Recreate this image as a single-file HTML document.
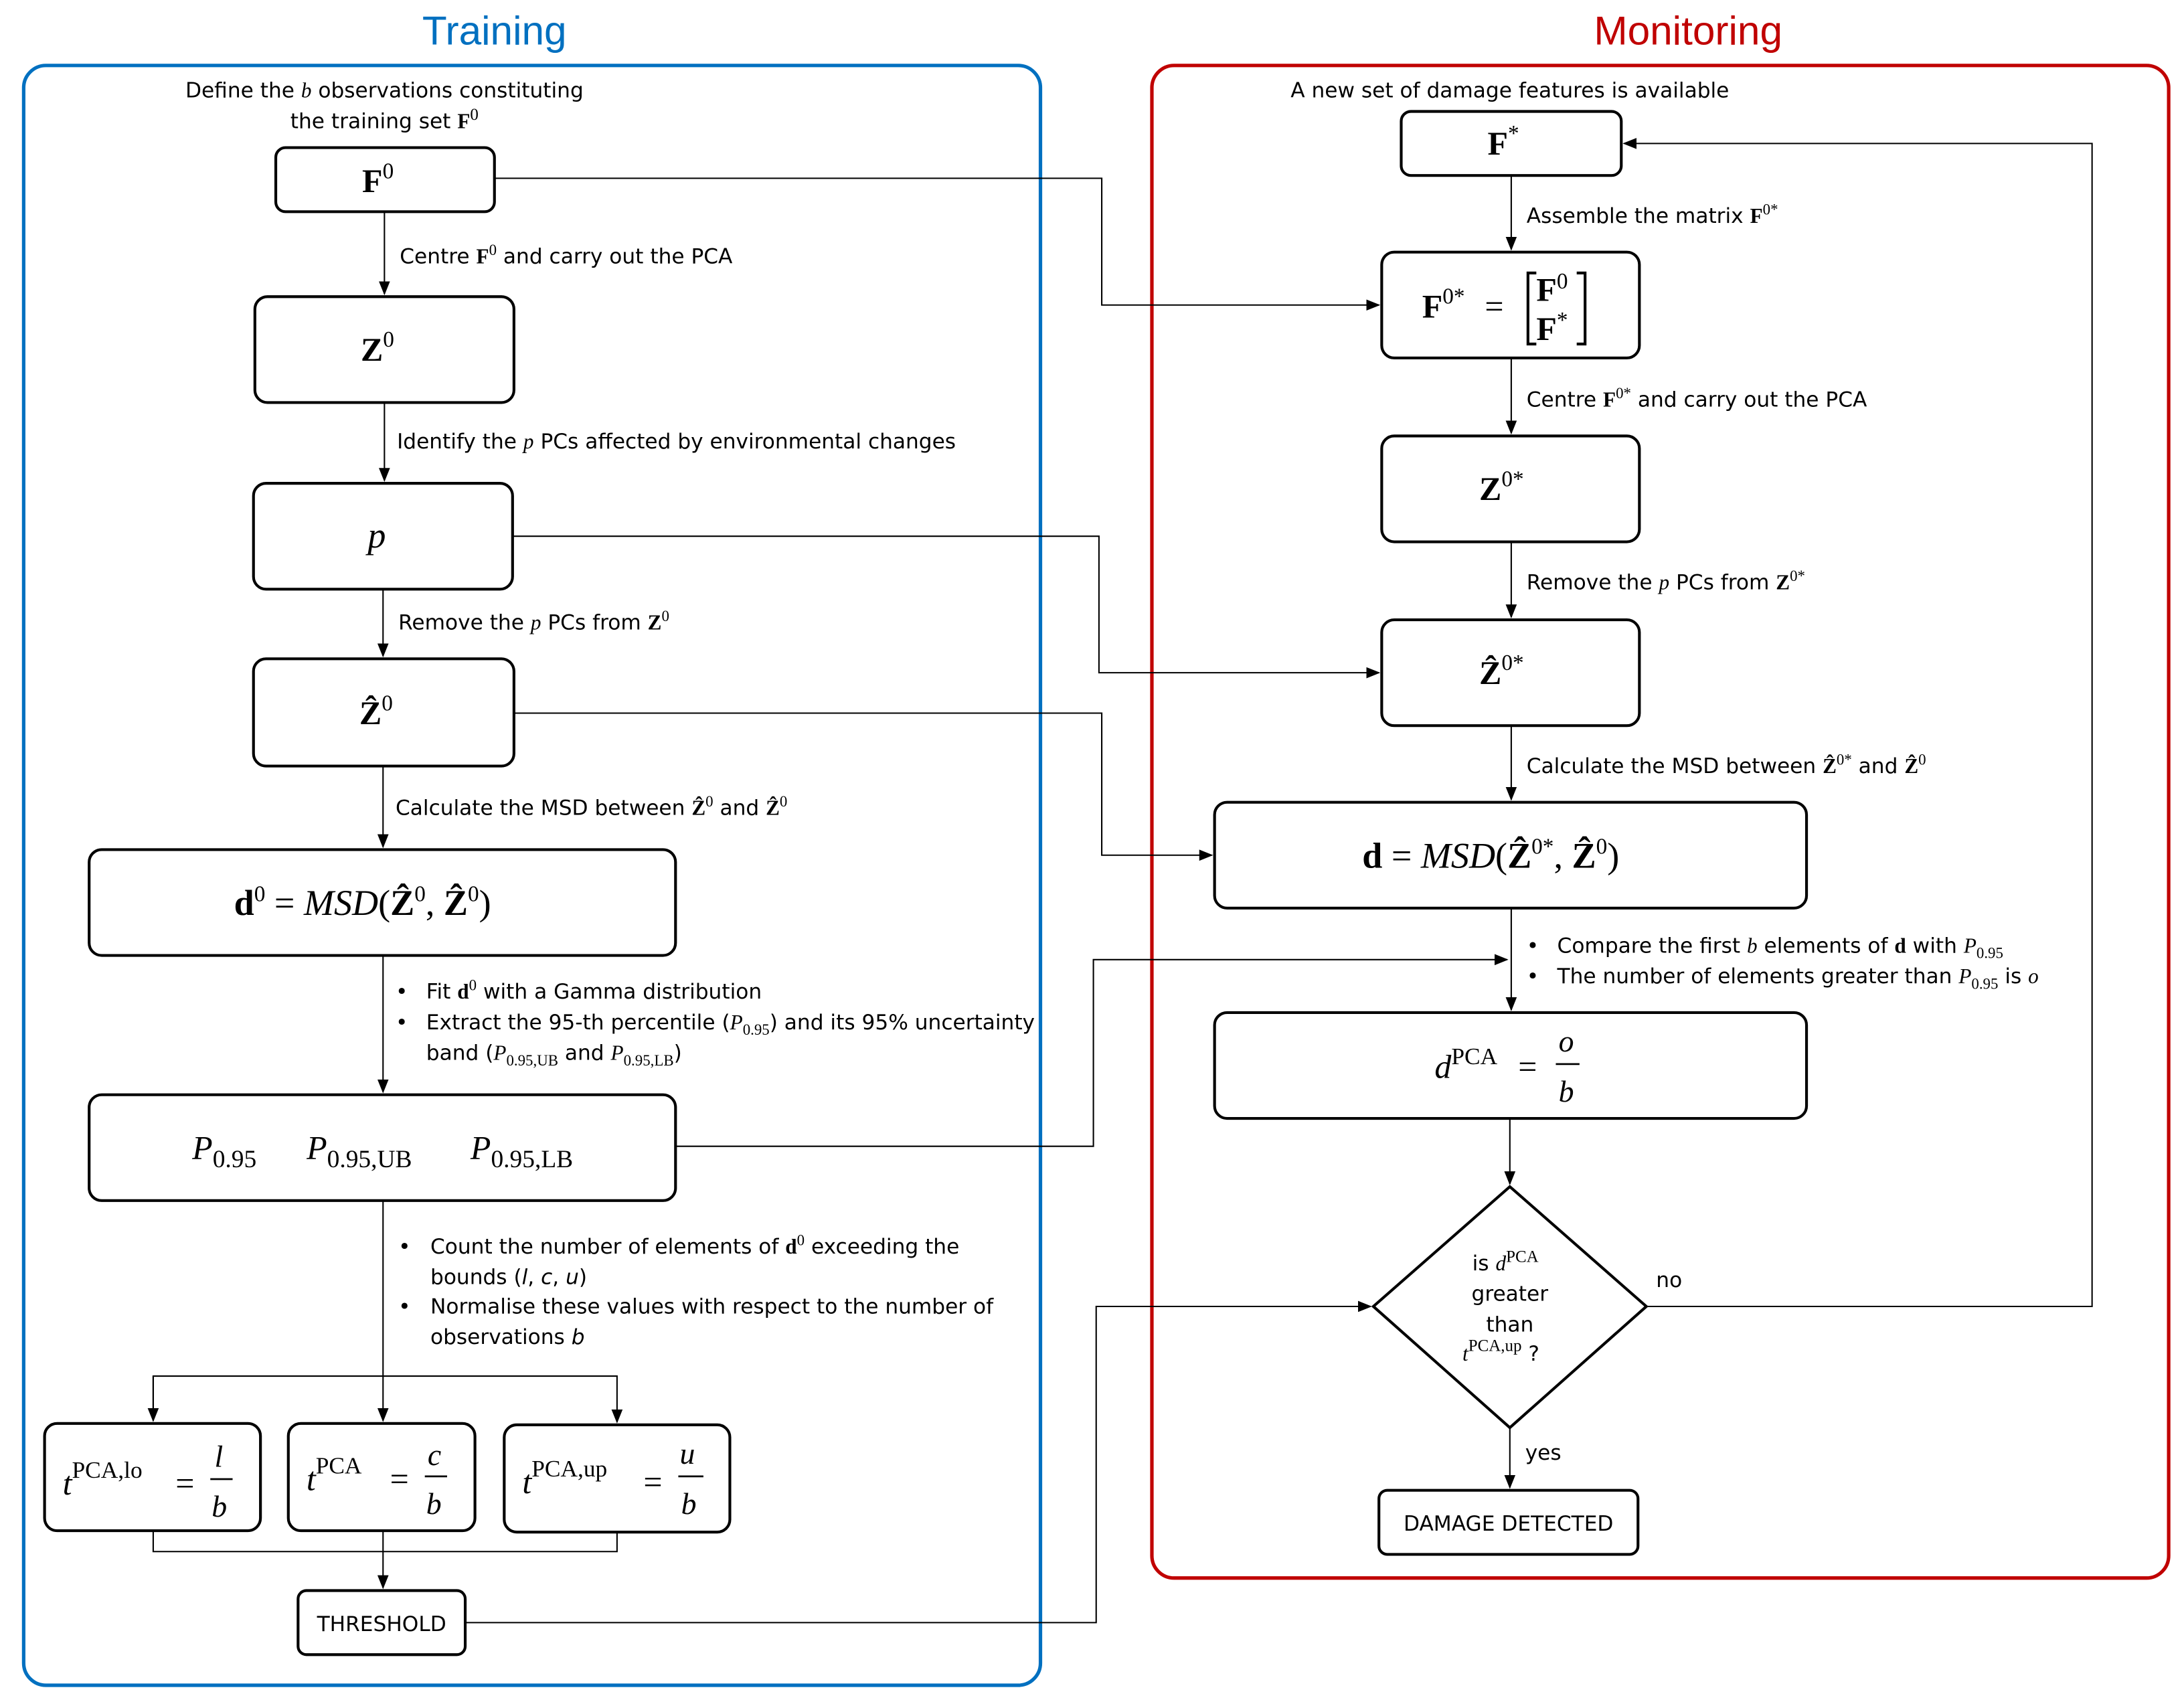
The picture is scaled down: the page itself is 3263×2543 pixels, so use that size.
<!DOCTYPE html>
<html><head><meta charset="utf-8">
<style>
html,body{margin:0;padding:0;background:#fff;}
svg{display:block;}
.s{font-family:"DejaVu Sans","Liberation Sans",sans-serif;font-size:15px;fill:#000;}
.m{font-family:"Liberation Serif",serif;fill:#000;}
.i{font-style:italic;}
.b{font-weight:bold;}
</style></head>
<body>
<svg width="3263" height="2543" viewBox="0 0 1568 1222" xmlns="http://www.w3.org/2000/svg">
<defs>
<marker id="a" markerWidth="10" markerHeight="10" refX="9" refY="5" orient="auto" markerUnits="userSpaceOnUse">
<path d="M0,1 L10,5 L0,9 z" fill="#000"/></marker>
</defs>
<rect width="1568" height="1222" fill="#fff"/>
<text x="355" y="32" text-anchor="middle" font-family="Liberation Sans,sans-serif" font-size="29" fill="#0070C0">Training</text>
<text x="1212" y="32" text-anchor="middle" font-family="Liberation Sans,sans-serif" font-size="29" fill="#C00000">Monitoring</text>
<rect x="17" y="47" width="730" height="1163" rx="16" fill="none" stroke="#0070C0" stroke-width="2.5"/>
<rect x="827" y="47" width="730" height="1086" rx="16" fill="none" stroke="#C00000" stroke-width="2.5"/>

<g fill="none" stroke="#000" stroke-width="2">
<rect x="198" y="106" width="157" height="46" rx="7"/>
<rect x="183" y="213" width="186" height="76" rx="9"/>
<rect x="182" y="347" width="186" height="76" rx="9"/>
<rect x="182" y="473" width="187" height="77" rx="9"/>
<rect x="64" y="610" width="421" height="76" rx="9"/>
<rect x="64" y="786" width="421" height="76" rx="9"/>
<rect x="32" y="1022" width="155" height="77" rx="9"/>
<rect x="207" y="1022" width="134" height="77" rx="9"/>
<rect x="362" y="1023" width="162" height="77" rx="9"/>
<rect x="214" y="1142" width="120" height="46" rx="6"/>
<rect x="1006" y="80" width="158" height="46" rx="7"/>
<rect x="992" y="181" width="185" height="76" rx="9"/>
<rect x="992" y="313" width="185" height="76" rx="9"/>
<rect x="992" y="445" width="185" height="76" rx="9"/>
<rect x="872" y="576" width="425" height="76" rx="9"/>
<rect x="872" y="727" width="425" height="76" rx="9"/>
<path d="M1084,852 L1182,938 L1084,1025 L986,938 Z"/>
<rect x="990" y="1070" width="186" height="46" rx="6"/>
</g>

<g fill="none" stroke="#000" stroke-width="1">
<path d="M276,152 V211" marker-end="url(#a)"/>
<path d="M276,289 V345" marker-end="url(#a)"/>
<path d="M275,423 V471" marker-end="url(#a)"/>
<path d="M275,550 V608" marker-end="url(#a)"/>
<path d="M275,686 V784" marker-end="url(#a)"/>
<path d="M275,862 V1020" marker-end="url(#a)"/>
<path d="M110,1020 V988 H443 V1021" marker-end="url(#a)"/>
<path d="M110,988 V1020" marker-end="url(#a)"/>
<path d="M110,1099 V1114 H443 V1100 M275,1099 V1140" marker-end="url(#a)"/>
<path d="M355,128 H791 V219 H990" marker-end="url(#a)"/>
<path d="M368,385 H789 V483 H990" marker-end="url(#a)"/>
<path d="M369,512 H791 V614 H870" marker-end="url(#a)"/>
<path d="M485,823 H785 V689 H1082" marker-end="url(#a)"/>
<path d="M334,1165 H787 V938 H984" marker-end="url(#a)"/>
<path d="M1182,938 H1502 V103 H1166" marker-end="url(#a)"/>
<path d="M1085,126 V179" marker-end="url(#a)"/>
<path d="M1085,257 V311" marker-end="url(#a)"/>
<path d="M1085,389 V443" marker-end="url(#a)"/>
<path d="M1085,521 V574" marker-end="url(#a)"/>
<path d="M1085,652 V725" marker-end="url(#a)"/>
<path d="M1084,803 V850" marker-end="url(#a)"/>
<path d="M1084,1025 V1068" marker-end="url(#a)"/>
</g>

<text class="s" x="276" y="70" text-anchor="middle" font-size="17">Define the <tspan class="m i">b</tspan> observations constituting</text>
<text class="s" x="276" y="92" text-anchor="middle" font-size="17">the training set <tspan class="m b">F</tspan><tspan class="m" font-size="12" dy="-6">0</tspan></text>
<text class="m b" x="260" y="138" font-size="24">F<tspan font-weight="normal" font-size="16" dy="-10">0</tspan></text>
<text class="s" x="287" y="189" font-size="16">Centre <tspan class="m b">F</tspan><tspan class="m" font-size="11" dy="-6">0</tspan><tspan dy="6"> and carry out the PCA</tspan></text>
<text class="m b" x="259" y="259" font-size="24">Z<tspan font-weight="normal" font-size="16" dy="-10">0</tspan></text>
<text class="s" x="285" y="322">Identify the <tspan class="m i">p</tspan> PCs affected by environmental changes</text>
<text class="m i" x="264" y="393" font-size="26">p</text>
<text class="s" x="286" y="452">Remove the <tspan class="m i">p</tspan> PCs from <tspan class="m b">Z</tspan><tspan class="m" font-size="11" dy="-6">0</tspan></text>
<text class="m b" x="258" y="520" font-size="24">Ẑ<tspan font-weight="normal" font-size="16" dy="-10">0</tspan></text>
<text class="s" x="284" y="585">Calculate the MSD between <tspan class="m b">Ẑ</tspan><tspan class="m" font-size="11" dy="-6">0</tspan><tspan dy="6"> and </tspan><tspan class="m b">Ẑ</tspan><tspan class="m" font-size="11" dy="-6">0</tspan></text>
<text class="m" x="168" y="657" font-size="26"><tspan class="b">d</tspan><tspan font-size="16" dy="-10">0</tspan><tspan dy="10"> = </tspan><tspan class="i">MSD</tspan>(<tspan class="b">Ẑ</tspan><tspan font-size="16" dy="-10">0</tspan><tspan dy="10">, </tspan><tspan class="b">Ẑ</tspan><tspan font-size="16" dy="-10">0</tspan><tspan dy="10">)</tspan></text>
<text class="s" x="284" y="717">•</text>
<text class="s" x="306" y="717" font-size="16">Fit <tspan class="m b">d</tspan><tspan class="m" font-size="11" dy="-6">0</tspan><tspan dy="6"> with a Gamma distribution</tspan></text>
<text class="s" x="284" y="739">•</text>
<text class="s" x="306" y="739">Extract the 95-th percentile (<tspan class="m i">P</tspan><tspan class="m" font-size="11" dy="4">0.95</tspan><tspan dy="-4">) and its 95% uncertainty</tspan></text>
<text class="s" x="306" y="761">band (<tspan class="m i">P</tspan><tspan class="m" font-size="11" dy="4">0.95,UB</tspan><tspan dy="-4"> and </tspan><tspan class="m i">P</tspan><tspan class="m" font-size="11" dy="4">0.95,LB</tspan><tspan dy="-4">)</tspan></text>
<text class="m" x="138" y="832" font-size="24"><tspan class="i">P</tspan><tspan font-size="18" dy="6">0.95</tspan><tspan class="i" dx="36" dy="-6">P</tspan><tspan font-size="18" dy="6">0.95,UB</tspan><tspan class="i" dx="42" dy="-6">P</tspan><tspan font-size="18" dy="6">0.95,LB</tspan></text>
<text class="s" x="286" y="900">•</text>
<text class="s" x="309" y="900">Count the number of elements of <tspan class="m b">d</tspan><tspan class="m" font-size="11" dy="-6">0</tspan><tspan dy="6"> exceeding the</tspan></text>
<text class="s" x="309" y="922">bounds (<tspan class="i">l</tspan>, <tspan class="i">c</tspan>, <tspan class="i">u</tspan>)</text>
<text class="s" x="286" y="943">•</text>
<text class="s" x="309" y="943">Normalise these values with respect to the number of</text>
<text class="s" x="309" y="965">observations <tspan class="i">b</tspan></text>
<g class="m" font-size="24">
<text x="45" y="1073" class="i">t<tspan font-style="normal" font-size="17" dy="-12">PCA,lo</tspan></text>
<text x="126" y="1073">=</text>
<text x="154" y="1053" class="i" font-size="22">l</text><line x1="151" y1="1062" x2="167" y2="1062" stroke="#000" stroke-width="1.3"/><text x="152" y="1089" class="i" font-size="22">b</text>
<text x="220" y="1070" class="i">t<tspan font-style="normal" font-size="17" dy="-12">PCA</tspan></text>
<text x="280" y="1070">=</text>
<text x="307" y="1052" class="i" font-size="22">c</text><line x1="305" y1="1060" x2="321" y2="1060" stroke="#000" stroke-width="1.3"/><text x="306" y="1087" class="i" font-size="22">b</text>
<text x="375" y="1072" class="i">t<tspan font-style="normal" font-size="17" dy="-12">PCA,up</tspan></text>
<text x="462" y="1072">=</text>
<text x="488" y="1051" class="i" font-size="22">u</text><line x1="487" y1="1060" x2="505" y2="1060" stroke="#000" stroke-width="1.3"/><text x="489" y="1087" class="i" font-size="22">b</text>
</g>
<text class="s" x="274" y="1171" text-anchor="middle">THRESHOLD</text>

<text class="s" x="1084" y="70" text-anchor="middle">A new set of damage features is available</text>
<text class="m b" x="1068" y="111" font-size="24">F<tspan font-weight="normal" font-size="16" dy="-10">*</tspan></text>
<text class="s" x="1096" y="160">Assemble the matrix <tspan class="m b">F</tspan><tspan class="m" font-size="11" dy="-6">0*</tspan></text>
<g class="m" font-size="24">
<text x="1021" y="228" class="b">F<tspan font-weight="normal" font-size="16" dy="-10">0*</tspan></text>
<text x="1066" y="228">=</text>
<path d="M1103,196 H1097 V247 H1103 M1132,196 H1138 V247 H1132" fill="none" stroke="#000" stroke-width="2"/>
<text x="1103" y="216" class="b">F<tspan font-weight="normal" font-size="16" dy="-9">0</tspan></text>
<text x="1103" y="244" class="b">F<tspan font-weight="normal" font-size="16" dy="-9">*</tspan></text>
</g>
<text class="s" x="1096" y="292" font-size="17">Centre <tspan class="m b">F</tspan><tspan class="m" font-size="11" dy="-6">0*</tspan><tspan dy="6"> and carry out the PCA</tspan></text>
<text class="m b" x="1062" y="359" font-size="24">Z<tspan font-weight="normal" font-size="16" dy="-10">0*</tspan></text>
<text class="s" x="1096" y="423">Remove the <tspan class="m i">p</tspan> PCs from <tspan class="m b">Z</tspan><tspan class="m" font-size="11" dy="-6">0*</tspan></text>
<text class="m b" x="1062" y="491" font-size="24">Ẑ<tspan font-weight="normal" font-size="16" dy="-10">0*</tspan></text>
<text class="s" x="1096" y="555">Calculate the MSD between <tspan class="m b">Ẑ</tspan><tspan class="m" font-size="11" dy="-6">0*</tspan><tspan dy="6"> and </tspan><tspan class="m b">Ẑ</tspan><tspan class="m" font-size="11" dy="-6">0</tspan></text>
<text class="m" x="978" y="623" font-size="26"><tspan class="b">d</tspan> = <tspan class="i">MSD</tspan>(<tspan class="b">Ẑ</tspan><tspan font-size="16" dy="-10">0*</tspan><tspan dy="10">, </tspan><tspan class="b">Ẑ</tspan><tspan font-size="16" dy="-10">0</tspan><tspan dy="10">)</tspan></text>
<text class="s" x="1096" y="684">•</text>
<text class="s" x="1118" y="684">Compare the first <tspan class="m i">b</tspan> elements of <tspan class="m b">d</tspan> with <tspan class="m i">P</tspan><tspan class="m" font-size="11" dy="4">0.95</tspan></text>
<text class="s" x="1096" y="706">•</text>
<text class="s" x="1118" y="706">The number of elements greater than <tspan class="m i">P</tspan><tspan class="m" font-size="11" dy="4">0.95</tspan><tspan dy="-4"> is </tspan><tspan class="m i">o</tspan></text>
<g class="m" font-size="24">
<text x="1030" y="774" class="i">d<tspan font-style="normal" font-size="17" dy="-10">PCA</tspan></text>
<text x="1090" y="774">=</text>
<text x="1119" y="755" class="i" font-size="22">o</text><line x1="1117" y1="764" x2="1134" y2="764" stroke="#000" stroke-width="1.3"/><text x="1119" y="791" class="i" font-size="22">b</text>
</g>
<text class="s" x="1057" y="912">is <tspan class="m i">d</tspan><tspan class="m" font-size="12" dy="-6">PCA</tspan></text>
<text class="s" x="1084" y="934" text-anchor="middle">greater</text>
<text class="s" x="1084" y="956" text-anchor="middle">than</text>
<text class="s" x="1050" y="977"><tspan class="m i">t</tspan><tspan class="m" font-size="12" dy="-7">PCA,up</tspan><tspan dy="7"> ?</tspan></text>
<text class="s" x="1189" y="924">no</text>
<text class="s" x="1095" y="1048">yes</text>
<text class="s" x="1083" y="1099" text-anchor="middle">DAMAGE DETECTED</text>
</svg>
</body></html>
